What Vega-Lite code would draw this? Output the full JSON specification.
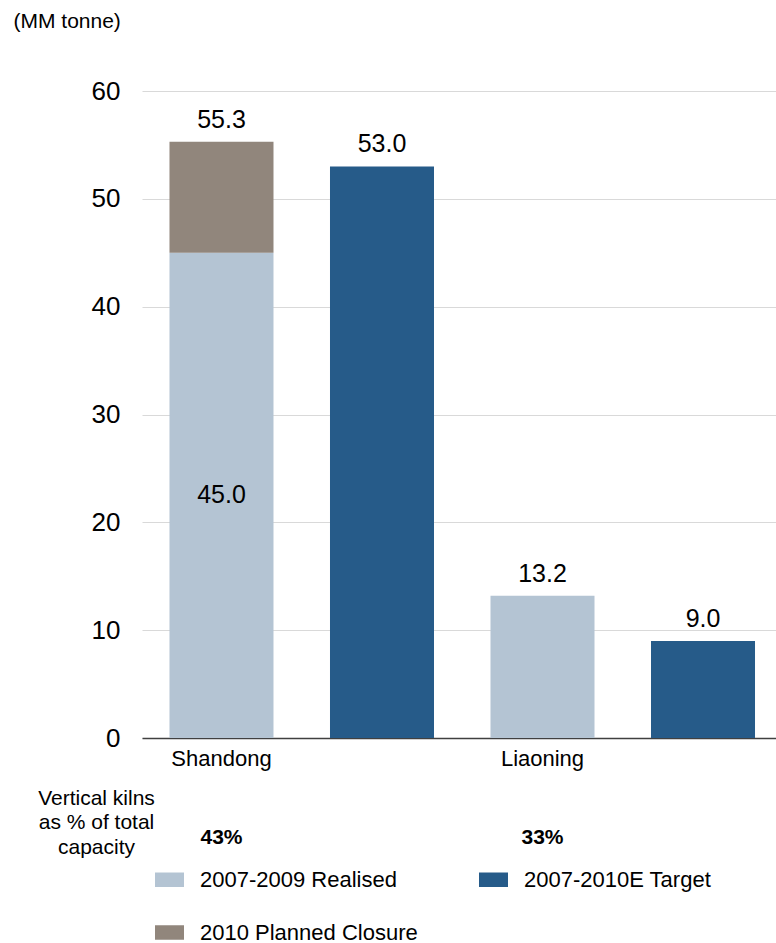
{
  "$schema": "https://vega.github.io/schema/vega-lite/v6.json",
  "padding": {"left": 13, "top": 10, "right": 0, "bottom": 0},
  "config": {
    "font": "Liberation Sans",
    "view": {"stroke": null},
    "text": {"color": "#000000"}
  },
  "datasets": {
    "capacity": [
      {"bar": "Shandong Realised", "province": "Shandong", "series": "2007-2009 Realised", "value": 45.0},
      {"bar": "Shandong Realised", "province": "Shandong", "series": "2010 Planned Closure", "value": 10.3},
      {"bar": "Shandong Target", "province": "Shandong", "series": "2007-2010E Target", "value": 53.0},
      {"bar": "Liaoning Realised", "province": "Liaoning", "series": "2007-2009 Realised", "value": 13.2},
      {"bar": "Liaoning Target", "province": "Liaoning", "series": "2007-2010E Target", "value": 9.0}
    ],
    "kilns": [
      {"bar": "Shandong Realised", "row": "Vertical kilns|as % of total|capacity", "share": "43%"},
      {"bar": "Liaoning Realised", "row": "Vertical kilns|as % of total|capacity", "share": "33%"}
    ]
  },
  "bounds": "flush",
  "spacing": 55,
  "vconcat": [
    {
      "width": 634,
      "height": 647,
      "data": {"name": "capacity"},
      "encoding": {
        "x": {
          "field": "bar",
          "type": "nominal",
          "sort": null,
          "scale": {
            "type": "band",
            "domain": ["Shandong Realised", "Shandong Target", "Liaoning Realised", "Liaoning Target"],
            "paddingInner": 0.352,
            "paddingOuter": 0.151,
            "align": 0.567
          },
          "axis": {
            "title": null,
            "labelAngle": 0,
            "ticks": false,
            "labelFontSize": 22,
            "labelPadding": 10,
            "labelColor": "#000000",
            "domainColor": "#404040",
            "domainWidth": 1.5,
            "labelExpr": "indexof(datum.label, 'Target') >= 0 ? '' : split(datum.label, ' ')[0]"
          }
        }
      },
      "layer": [
        {
          "mark": {"type": "bar"},
          "encoding": {
            "y": {
              "field": "value",
              "type": "quantitative",
              "stack": "zero",
              "scale": {"domain": [0, 60]},
              "axis": {
                "title": "(MM tonne)",
                "titleAngle": 0,
                "titleAlign": "left",
                "titleBaseline": "middle",
                "titleX": -129,
                "titleY": -70,
                "titleFontSize": 21,
                "titleFontWeight": "normal",
                "titleColor": "#000000",
                "values": [0, 10, 20, 30, 40, 50, 60],
                "domain": false,
                "ticks": false,
                "labelFontSize": 26,
                "labelPadding": 22,
                "labelColor": "#000000",
                "gridColor": "#D9D9D9",
                "gridWidth": 1
              }
            },
            "color": {
              "field": "series",
              "type": "nominal",
              "scale": {
                "domain": ["2007-2009 Realised", "2007-2010E Target", "2010 Planned Closure"],
                "range": ["#B4C4D3", "#265B89", "#91867C"]
              },
              "legend": {
                "title": null,
                "orient": "none",
                "direction": "horizontal",
                "legendX": 13,
                "legendY": 774,
                "columns": 2,
                "padding": 0,
                "symbolType": "M-1,-0.5H1V0.5H-1Z",
                "symbolSize": 841,
                "symbolStrokeWidth": 0,
                "symbolOpacity": 1,
                "labelFontSize": 22,
                "labelColor": "#000000",
                "labelOffset": 16,
                "labelLimit": 400,
                "columnPadding": 61,
                "rowPadding": 27
              }
            },
            "order": {"field": "series", "sort": "ascending"}
          }
        },
        {
          "transform": [
            {"aggregate": [{"op": "sum", "field": "value", "as": "value"}], "groupby": ["bar"]}
          ],
          "mark": {"type": "text", "baseline": "alphabetic", "dy": -14, "fontSize": 25},
          "encoding": {
            "y": {"field": "value", "type": "quantitative"},
            "text": {"field": "value", "type": "quantitative", "format": ".1f"}
          }
        },
        {
          "transform": [
            {"filter": "datum.bar === 'Shandong Realised' && datum.series === '2007-2009 Realised'"}
          ],
          "mark": {"type": "text", "baseline": "middle", "fontSize": 25},
          "encoding": {
            "y": {"field": "value", "type": "quantitative", "stack": "zero", "bandPosition": 0.5},
            "detail": {"field": "series"},
            "text": {"field": "value", "type": "quantitative", "format": ".1f"}
          }
        }
      ]
    },
    {
      "width": 634,
      "height": 60,
      "data": {"name": "kilns"},
      "mark": {"type": "text", "fontSize": 21, "fontWeight": "bold", "dy": 15},
      "encoding": {
        "x": {
          "field": "bar",
          "type": "nominal",
          "sort": null,
          "scale": {
            "type": "band",
            "domain": ["Shandong Realised", "Shandong Target", "Liaoning Realised", "Liaoning Target"],
            "paddingInner": 0.352,
            "paddingOuter": 0.151,
            "align": 0.567
          },
          "axis": null
        },
        "y": {
          "field": "row",
          "type": "nominal",
          "scale": {"type": "band", "paddingInner": 0, "paddingOuter": 0},
          "axis": {
            "title": null,
            "domain": false,
            "ticks": false,
            "labelExpr": "split(datum.label, '|')",
            "labelAlign": "center",
            "labelBaseline": "middle",
            "labelOffset": -24.5,
            "labelPadding": 46,
            "labelFontSize": 21,
            "labelLineHeight": 24.5,
            "labelColor": "#000000"
          }
        },
        "text": {"field": "share"}
      }
    }
  ]
}
